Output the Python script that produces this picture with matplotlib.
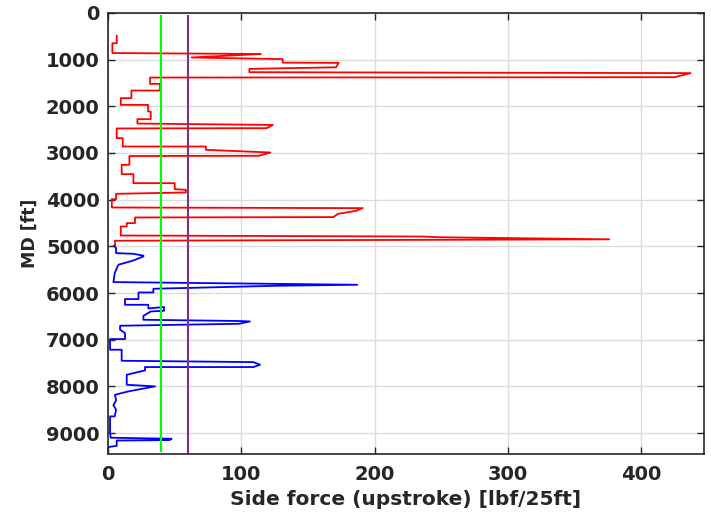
import matplotlib.pyplot as plt

plt.rcParams["font.family"] = ["DejaVu Sans"]
plt.rcParams["font.weight"] = "bold"

# upper section (red): side force [lbf/25ft] vs MD [ft]
red_force = [6.5, 6.5, 3.2, 3.2, 114.6, 62.7, 131, 131, 173, 171, 106, 106,
             437, 425, 31.5, 31.5, 39, 39, 17.5, 17.5, 9.5, 9.5, 30, 30, 32, 32,
             22, 22, 123.6, 119, 6.5, 6.5, 11, 11, 73.4, 73.4, 121.8, 113, 16,
             16, 10.2, 10.2, 19, 19, 50, 50, 58.4, 58.4, 6, 6, 2.8, 2.8, 191,
             186, 172.5, 169, 20.2, 20.2, 14, 14, 9.5, 9.5, 236, 248, 376, 5.2,
             5.2]
red_md = [490, 650, 650, 860, 880, 955, 990, 1065, 1070, 1165, 1200, 1270,
          1290, 1377, 1385, 1520, 1520, 1663, 1663, 1826, 1826, 1970, 1970,
          2113, 2113, 2276, 2276, 2370, 2400, 2469, 2475, 2683, 2683, 2862,
          2862, 2933, 2990, 3061, 3065, 3254, 3254, 3454, 3454, 3647, 3647,
          3775, 3790, 3847, 3875, 3990, 3990, 4168, 4182, 4239, 4304, 4374,
          4382, 4503, 4503, 4575, 4575, 4768, 4790, 4805, 4850, 4880, 4990]

# lower section (blue)
blue_force = [4.5, 6, 6, 19, 26.5, 26.5, 19, 7.7, 5, 4, 187, 126, 34, 34,
              22.8, 22.8, 12.7, 12.7, 30.2, 30.2, 42, 42, 32, 26.5, 26.5, 99,
              106.4, 98, 9, 9, 12.7, 12.7, 1.5, 1.5, 10.2, 10.2, 109, 114,
              109, 27.7, 27.7, 14, 14, 35.2, 15.2, 5.2, 6, 4, 6, 5, 1.5, 1.5,
              2, 47.7, 46, 6.5, 6.5, 0.2]
blue_md = [4990, 5038, 5145, 5160, 5200, 5217, 5303, 5395, 5573, 5766, 5823,
           5845, 5909, 5988, 5988, 6130, 6130, 6252, 6252, 6330, 6300, 6380,
           6395, 6490, 6573, 6600, 6609, 6659, 6701, 6787, 6858, 6987, 6987,
           7215, 7215, 7451, 7480, 7536, 7586, 7586, 7658, 7751, 7965, 8000,
           8108, 8179, 8300, 8400, 8500, 8643, 8643, 9000, 9100, 9122, 9150,
           9160, 9272, 9300]

green_limit = 40
purple_limit = 60

fig = plt.figure(figsize=(7.11, 5.16), dpi=100)
ax = fig.add_axes([0.152, 0.12, 0.838, 0.855])

ax.plot(red_force, red_md, color="#ff0000", lw=1.3)
ax.plot(blue_force, blue_md, color="#0000ff", lw=1.3)
ax.plot([green_limit, green_limit], [60, 9380], color="#00ff00", lw=1.5)
ax.plot([purple_limit, purple_limit], [60, 9450], color="#7e2f8e", lw=1.5)

ax.set_xlim(0, 447)
ax.set_ylim(9450, 0)
ax.set_xticks([0, 100, 200, 300, 400])
ax.set_yticks(range(0, 10000, 1000))
ax.grid(True, color="#dcdcdc", lw=1)
ax.set_axisbelow(True)

ax.tick_params(direction="in", length=5, width=1, top=True, right=True,
               labelsize=14, colors="#262626")
ax.tick_params(axis="x", pad=8)
ax.tick_params(axis="y", pad=6)
for lab in ax.get_xticklabels() + ax.get_yticklabels():
    lab.set_fontweight("bold")
for s in ax.spines.values():
    s.set_color("#262626")
    s.set_linewidth(1.2)

ax.set_xlabel("Side force (upstroke) [lbf/25ft]", fontsize=14.5,
              fontweight="bold", color="#262626", labelpad=4)
ax.set_ylabel("MD [ft]", fontsize=12.5, fontweight="bold", color="#262626",
              labelpad=5)

fig.savefig("out.png", dpi=100)
